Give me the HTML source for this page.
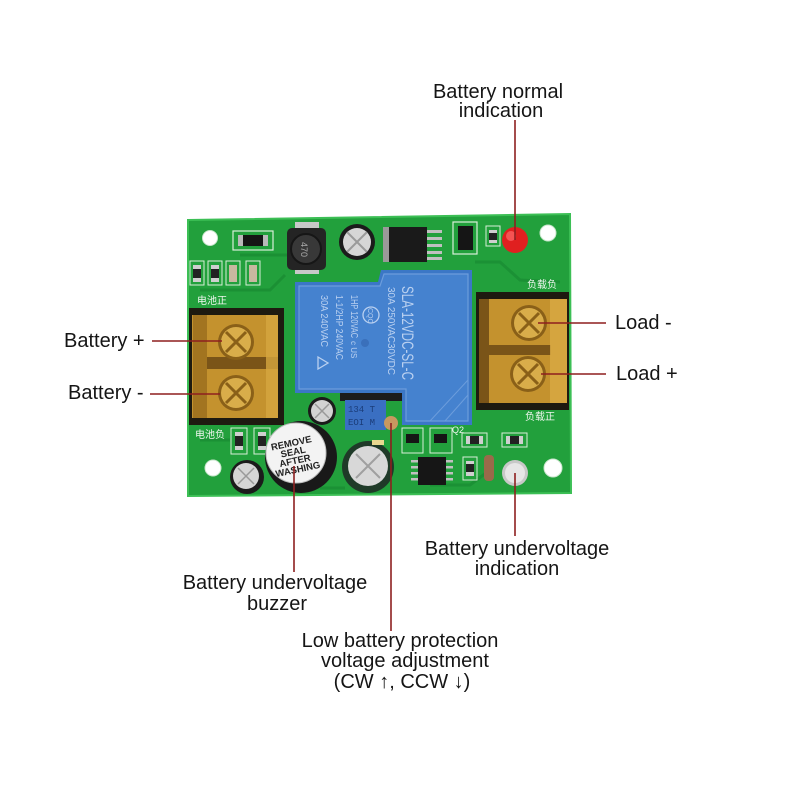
<!DOCTYPE html>
<html><head><meta charset="utf-8"><style>
html,body{margin:0;padding:0;background:#fff;}
svg{display:block;}
.lbl{font-family:"Liberation Sans","DejaVu Sans",sans-serif;font-size:20px;fill:#151515;}
.ss{font-family:"Liberation Sans","Noto Sans CJK SC",sans-serif;fill:#eef6ee;}
.rl{font-family:"Liberation Sans",sans-serif;fill:#b9d0f0;}
</style></head><body>
<svg width="800" height="800" viewBox="0 0 800 800" xmlns="http://www.w3.org/2000/svg">
<rect width="800" height="800" fill="#fff"/>
<!-- board -->
<polygon points="188,220 570,214 571,493 188,496" fill="#22a03c"/>
<polygon points="188,220 570,214 571,493 188,496" fill="none" stroke="#3cbf55" stroke-width="2"/>
<!-- traces -->
<g stroke="#1a8d33" stroke-width="3" fill="none" opacity="0.8">
<path d="M200,290 L270,290 L285,275"/>
<path d="M240,255 L290,255"/>
<path d="M475,262 L500,262 L520,280 L560,282"/>
<path d="M430,485 L470,485 L490,470"/>
<path d="M200,440 L230,440"/>
<path d="M320,488 L345,488"/>
</g>
<!-- mounting holes -->
<circle cx="210" cy="238" r="7.5" fill="#fff" stroke="#c9e6cc"/>
<circle cx="548" cy="233" r="8" fill="#fff" stroke="#c9e6cc"/>
<circle cx="213" cy="468" r="8" fill="#fff" stroke="#c9e6cc"/>
<circle cx="553" cy="468" r="9" fill="#fff" stroke="#c9e6cc"/>
<!-- D1 -->
<rect x="233" y="231" width="40" height="19" fill="none" stroke="#d8eed8" stroke-width="1.2"/>
<rect x="238" y="235" width="30" height="11" fill="#b9b9b9"/>
<rect x="243" y="235" width="20" height="11" fill="#151515"/>
<!-- small R/C -->
<g stroke="#d8eed8" stroke-width="1" fill="none">
<rect x="190" y="261" width="14" height="24"/><rect x="208" y="261" width="14" height="24"/>
<rect x="226" y="261" width="14" height="24"/><rect x="246" y="261" width="14" height="24"/>
</g>
<rect x="193" y="265" width="8" height="17" fill="#cfcfcf"/><rect x="193" y="269" width="8" height="9" fill="#222"/>
<rect x="211" y="265" width="8" height="17" fill="#cfcfcf"/><rect x="211" y="269" width="8" height="9" fill="#222"/>
<rect x="229" y="265" width="8" height="17" fill="#c8b8a0"/>
<rect x="249" y="265" width="8" height="17" fill="#c8b8a0"/>
<text class="ss" x="197" y="304" font-size="10">电池正</text>
<!-- inductor -->
<rect x="295" y="222" width="24" height="8" fill="#c8c8c8"/>
<rect x="295" y="266" width="24" height="8" fill="#c8c8c8"/>
<rect x="287" y="228" width="39" height="42" rx="5" fill="#242424"/>
<circle cx="306" cy="249" r="15" fill="#383838" stroke="#161616" stroke-width="2"/>
<text x="0" y="0" transform="translate(301,242) rotate(90)" font-family="Liberation Sans,sans-serif" font-size="9" fill="#aaa">470</text>
<!-- top cap -->
<circle cx="357" cy="242" r="18" fill="#1b1b1b"/>
<circle cx="357" cy="242" r="14" fill="#d6d6d6"/>
<path d="M347,232 L367,252 M367,232 L347,252" stroke="#9a9a9a" stroke-width="2"/>
<!-- U1 -->
<rect x="383" y="227" width="8" height="35" fill="#9a9a9a"/>
<rect x="389" y="227" width="38" height="35" fill="#1a1a1a"/>
<g fill="#c0c0c0"><rect x="427" y="230" width="15" height="3"/><rect x="427" y="237" width="15" height="3"/><rect x="427" y="244" width="15" height="3"/><rect x="427" y="251" width="15" height="3"/><rect x="427" y="257" width="15" height="3"/></g>
<!-- D2 -->
<rect x="453" y="222" width="24" height="32" fill="none" stroke="#d8eed8" stroke-width="1.2"/>
<rect x="458" y="226" width="15" height="24" fill="#151515"/>
<!-- R3 -->
<rect x="486" y="226" width="14" height="20" fill="none" stroke="#d8eed8"/>
<rect x="489" y="230" width="8" height="13" fill="#cfcfcf"/><rect x="489" y="233" width="8" height="7" fill="#222"/>
<!-- red LED -->
<circle cx="515" cy="240" r="13" fill="#e02020"/>
<circle cx="511" cy="236" r="5" fill="#ff6a6a" opacity="0.7"/>
<!-- left terminal block -->
<rect x="189" y="308" width="95" height="117" fill="#1e1a10"/>
<rect x="192" y="315" width="86" height="103" fill="#c4922e"/>
<rect x="193" y="315" width="14" height="103" fill="#a27420"/>
<rect x="207" y="357" width="71" height="12" fill="#7a5418"/>
<rect x="266" y="315" width="12" height="103" fill="#d6a640" opacity="0.8"/>
<circle cx="236" cy="342" r="18" fill="#8a6018"/>
<circle cx="236" cy="342" r="15" fill="#d9ad4a"/>
<path d="M226,332 L246,352 M246,332 L226,352" stroke="#8a6018" stroke-width="3"/>
<circle cx="236" cy="393" r="18" fill="#8a6018"/>
<circle cx="236" cy="393" r="15" fill="#d9ad4a"/>
<path d="M226,383 L246,403 M246,383 L226,403" stroke="#8a6018" stroke-width="3"/>
<!-- right terminal block -->
<text class="ss" x="527" y="288" font-size="10">负载负</text>
<rect x="476" y="292" width="93" height="118" fill="#1e1a10"/>
<rect x="479" y="299" width="88" height="104" fill="#c4922e"/>
<rect x="479" y="299" width="10" height="104" fill="#7a5418"/>
<rect x="489" y="345" width="62" height="10" fill="#7a5418"/>
<rect x="550" y="299" width="17" height="104" fill="#d8a842" opacity="0.85"/>
<circle cx="529" cy="323" r="18" fill="#8a6018"/>
<circle cx="529" cy="323" r="15" fill="#d9ad4a"/>
<path d="M519,313 L539,333 M539,313 L519,333" stroke="#8a6018" stroke-width="3"/>
<circle cx="528" cy="374" r="18" fill="#8a6018"/>
<circle cx="528" cy="374" r="15" fill="#d9ad4a"/>
<path d="M518,364 L538,384 M538,364 L518,384" stroke="#8a6018" stroke-width="3"/>
<text class="ss" x="525" y="420" font-size="10">负载正</text>
<!-- relay -->
<polygon points="295,282 378,282 381,270 472,270 472,425 402,425 402,393 295,393" fill="#3b77c6"/>
<polygon points="299,286 380,286 384,274 468,274 468,421 406,421 406,389 299,389" fill="#4582cf" stroke="#6c9ddc" stroke-width="1.2"/>
<path d="M468,380 L430,421 M468,395 L445,421" stroke="#6c9ddc" stroke-width="1"/>
<text class="rl" transform="translate(402,286) rotate(90)" font-size="17" textLength="94" lengthAdjust="spacingAndGlyphs">SLA-12VDC-SL-C</text>
<text class="rl" transform="translate(388,287) rotate(90)" font-size="10.5" textLength="88" lengthAdjust="spacingAndGlyphs">30A 250VAC30VDC</text>
<circle cx="371" cy="315" r="8" fill="none" stroke="#b9d0f0" stroke-width="1.3"/>
<text class="rl" transform="translate(368,308) rotate(90)" font-size="7">CQC</text>
<text class="rl" transform="translate(351,295) rotate(90)" font-size="10.5" textLength="43" lengthAdjust="spacingAndGlyphs">1HP 120VAC</text>
<text class="rl" transform="translate(351,341) rotate(90)" font-size="8">c US</text>
<text class="rl" transform="translate(336,295) rotate(90)" font-size="10.5" textLength="65" lengthAdjust="spacingAndGlyphs">1-1/2HP 240VAC</text>
<text class="rl" transform="translate(321,295) rotate(90)" font-size="10.5" textLength="52" lengthAdjust="spacingAndGlyphs">30A 240VAC</text>
<polygon points="318,357 328,363 318,369" fill="none" stroke="#b9d0f0" stroke-width="1.3"/>
<circle cx="365" cy="343" r="4" fill="#3a70bb"/>
<!-- potentiometer -->
<rect x="340" y="393" width="62" height="8" fill="#1c1c1c"/>
<rect x="345" y="400" width="41" height="30" fill="#3a6fc2"/>
<text x="348" y="412" font-family="Liberation Mono,monospace" font-size="9" fill="#1b3d7a">134 T</text>
<text x="348" y="425" font-family="Liberation Mono,monospace" font-size="9" fill="#1b3d7a">EOI M</text>
<circle cx="391" cy="423" r="7" fill="#c89860"/>
<!-- small cap near relay -->
<circle cx="322" cy="411" r="14" fill="#1b1b1b"/>
<circle cx="322" cy="411" r="11" fill="#d3d3d3"/>
<path d="M315,404 L329,418 M329,404 L315,418" stroke="#999" stroke-width="1.5"/>
<!-- bottom left -->
<text class="ss" x="195" y="438" font-size="10">电池负</text>
<rect x="231" y="428" width="16" height="26" fill="none" stroke="#d8eed8"/>
<rect x="235" y="432" width="8" height="18" fill="#cfcfcf"/><rect x="235" y="436" width="8" height="10" fill="#222"/>
<rect x="254" y="428" width="16" height="26" fill="none" stroke="#d8eed8"/>
<rect x="258" y="432" width="8" height="18" fill="#cfcfcf"/><rect x="258" y="436" width="8" height="10" fill="#222"/>
<circle cx="247" cy="477" r="17" fill="#1b1b1b"/>
<circle cx="246" cy="476" r="13" fill="#d5d5d5"/>
<path d="M238,468 L254,484 M254,468 L238,484" stroke="#999" stroke-width="1.5"/>
<!-- buzzer -->
<circle cx="301" cy="457" r="36" fill="#191919"/>
<circle cx="296" cy="453" r="30" fill="#f3f3f3" stroke="#bdbdbd"/>
<g transform="rotate(-12 294 456)" font-family="Liberation Sans,sans-serif" font-size="9.5" fill="#222" text-anchor="middle" font-weight="bold">
<text x="294" y="446">REMOVE</text><text x="294" y="455">SEAL</text><text x="294" y="464">AFTER</text><text x="295" y="473">WASHING</text>
</g>
<!-- big cap -->
<circle cx="368" cy="467" r="26" fill="#1f3a28"/>
<circle cx="368" cy="466" r="20" fill="#d8d8d8"/>
<path d="M356,454 L380,478 M380,454 L356,478" stroke="#a0a0a0" stroke-width="2"/>
<rect x="372" y="440" width="12" height="5" fill="#e8d890"/>
<!-- Q1 Q2 -->
<rect x="402" y="428" width="21" height="25" fill="none" stroke="#d8eed8"/>
<rect x="406" y="434" width="13" height="9" fill="#151515"/>
<rect x="430" y="428" width="22" height="25" fill="none" stroke="#d8eed8"/>
<rect x="434" y="434" width="13" height="9" fill="#151515"/>
<text class="ss" x="452" y="433" font-size="9">Q2</text>
<!-- SOIC -->
<rect x="418" y="457" width="28" height="28" fill="#161616"/>
<g fill="#c0c0c0"><rect x="411" y="460" width="7" height="2.5"/><rect x="411" y="466" width="7" height="2.5"/><rect x="411" y="472" width="7" height="2.5"/><rect x="411" y="478" width="7" height="2.5"/>
<rect x="446" y="460" width="7" height="2.5"/><rect x="446" y="466" width="7" height="2.5"/><rect x="446" y="472" width="7" height="2.5"/><rect x="446" y="478" width="7" height="2.5"/></g>
<!-- R6 R7 R8 ZD1 -->
<rect x="463" y="457" width="14" height="23" fill="none" stroke="#d8eed8"/>
<rect x="466" y="461" width="8" height="15" fill="#cfcfcf"/><rect x="466" y="464" width="8" height="8" fill="#222"/>
<rect x="462" y="433" width="25" height="14" fill="none" stroke="#d8eed8"/>
<rect x="466" y="436" width="17" height="8" fill="#cfcfcf"/><rect x="470" y="436" width="9" height="8" fill="#222"/>
<rect x="502" y="433" width="25" height="14" fill="none" stroke="#d8eed8"/>
<rect x="506" y="436" width="17" height="8" fill="#cfcfcf"/><rect x="510" y="436" width="9" height="8" fill="#222"/>
<rect x="484" y="455" width="10" height="26" rx="4" fill="#9a6a4a"/>
<!-- white LED -->
<circle cx="515" cy="473" r="13" fill="#c8c8c8"/>
<circle cx="515" cy="473" r="10" fill="#e6e6e6"/>
<!-- callout lines -->
<g stroke="#8e1f1f" stroke-width="1.6" fill="none">
<line x1="515" y1="120" x2="515" y2="240"/>
<line x1="152" y1="341" x2="222" y2="341"/>
<line x1="150" y1="394" x2="220" y2="394"/>
<line x1="538" y1="323" x2="606" y2="323"/>
<line x1="541" y1="374" x2="606" y2="374"/>
<line x1="294" y1="466" x2="294" y2="572"/>
<line x1="391" y1="423" x2="391" y2="631"/>
<line x1="515" y1="473" x2="515" y2="536"/>
</g>
<!-- labels -->
<text class="lbl" x="498" y="98" text-anchor="middle">Battery normal</text>
<text class="lbl" x="501" y="117" text-anchor="middle">indication</text>
<text class="lbl" x="64" y="347">Battery +</text>
<text class="lbl" x="68" y="399">Battery -</text>
<text class="lbl" x="615" y="329">Load -</text>
<text class="lbl" x="616" y="380">Load +</text>
<text class="lbl" x="275" y="589" text-anchor="middle">Battery undervoltage</text>
<text class="lbl" x="277" y="610" text-anchor="middle">buzzer</text>
<text class="lbl" x="517" y="555" text-anchor="middle">Battery undervoltage</text>
<text class="lbl" x="517" y="575" text-anchor="middle">indication</text>
<text class="lbl" x="400" y="647" text-anchor="middle">Low battery protection</text>
<text class="lbl" x="405" y="667" text-anchor="middle">voltage adjustment</text>
<text class="lbl" x="402" y="688" text-anchor="middle">(CW ↑,  CCW ↓)</text>
</svg>
</body></html>
